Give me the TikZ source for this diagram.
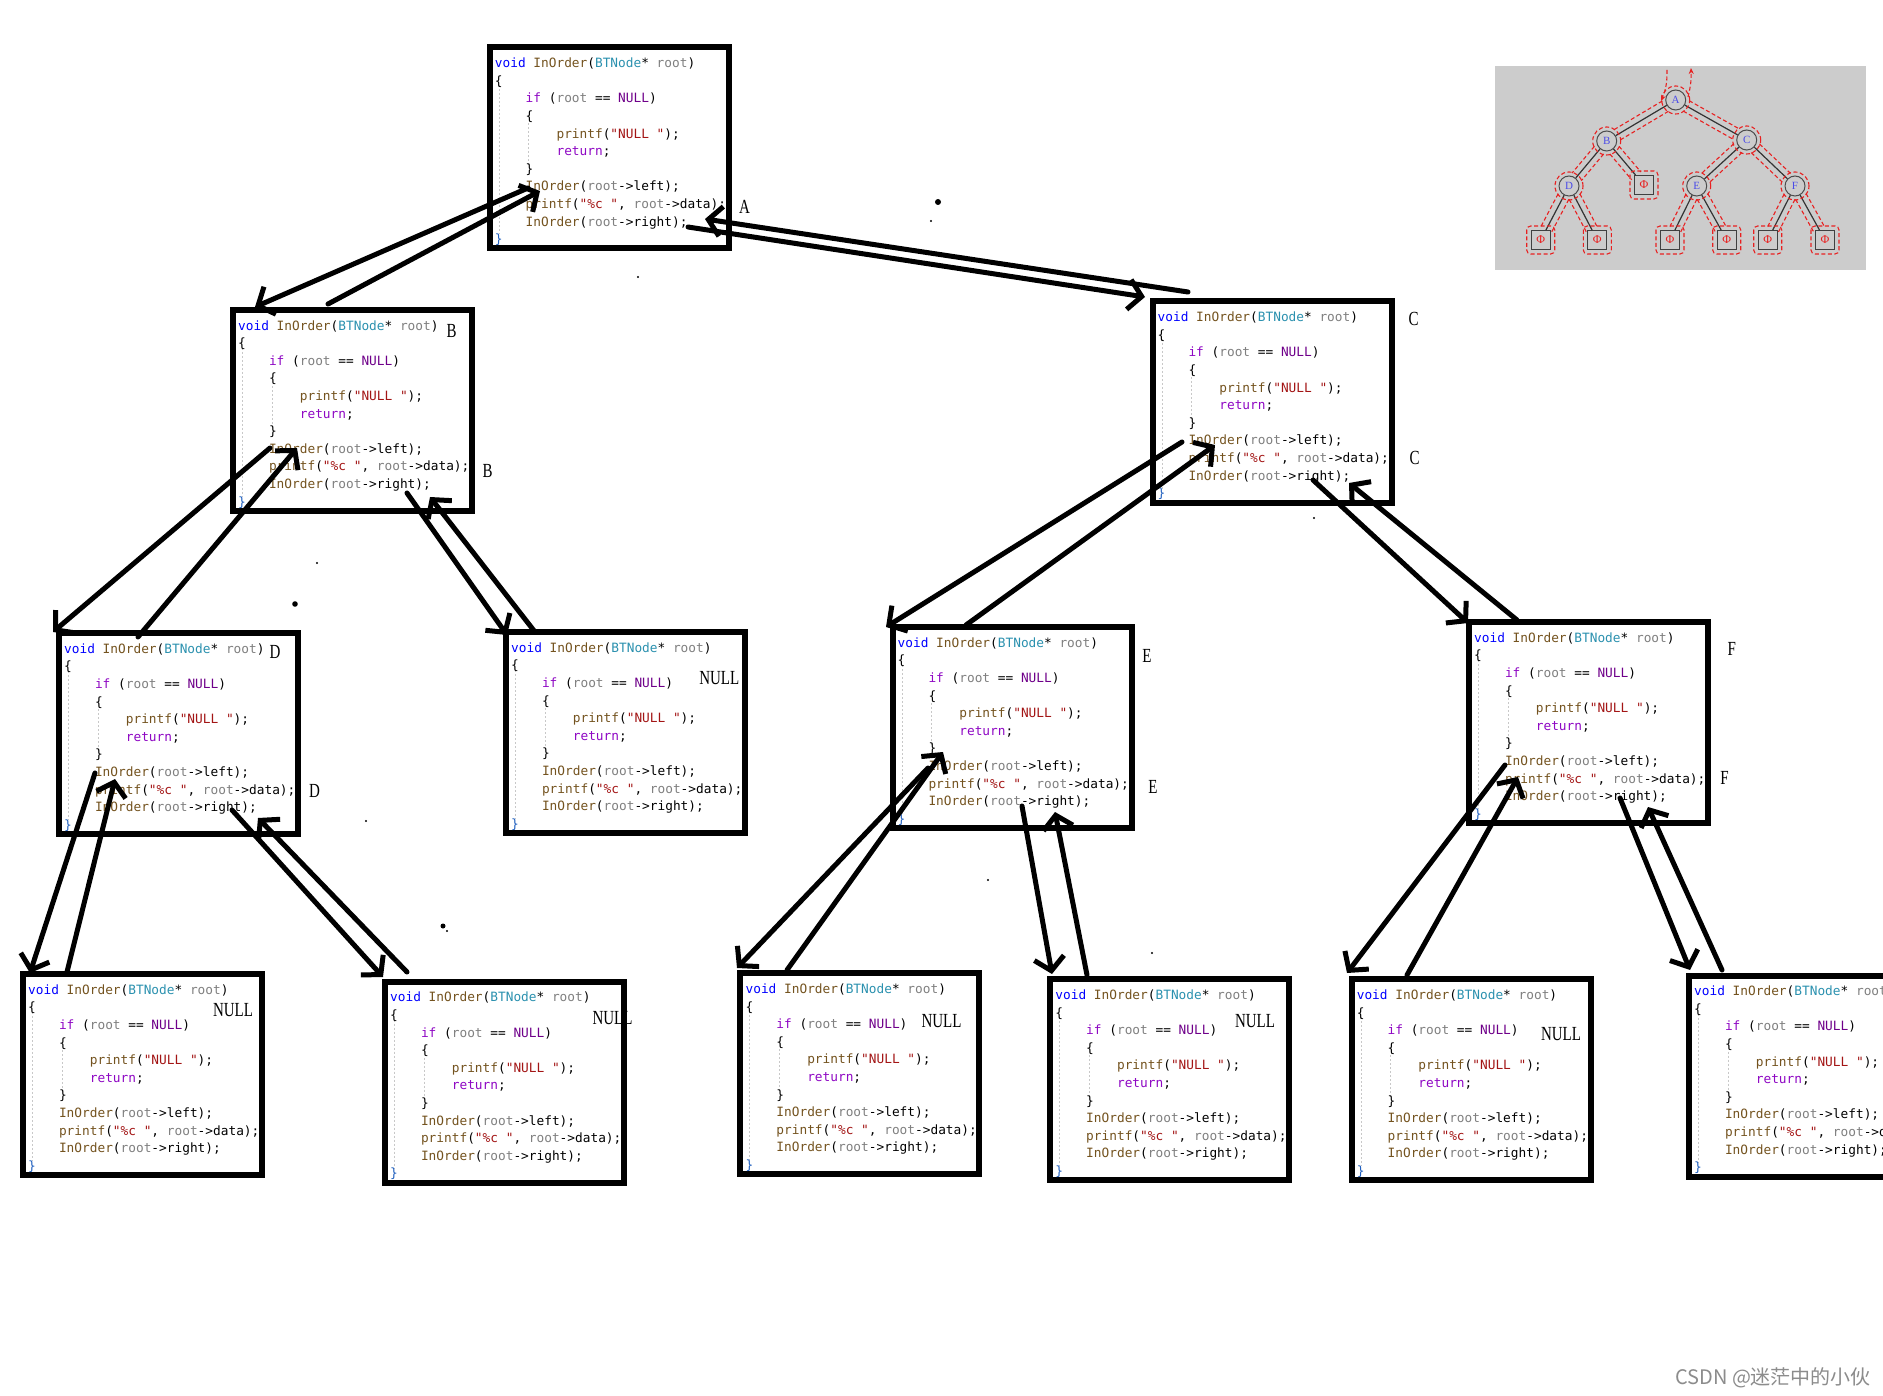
\documentclass[tikz,border=0pt]{standalone}
\usepackage{fontspec}
\setmonofont{DejaVu Sans Mono}
\newfontfamily\lblfont{Liberation Serif}[FakeStretch=0.75]
\newfontfamily\thumbfont{Liberation Serif}
\newfontfamily\cjkfont{Noto Sans CJK SC}
\usetikzlibrary{arrows.meta,calc}
\definecolor{vsblue}{HTML}{0000FF}
\definecolor{vsfn}{HTML}{74531F}
\definecolor{vstype}{HTML}{2B91AF}
\definecolor{vsparam}{HTML}{808080}
\definecolor{vskw}{HTML}{8F08C4}
\definecolor{vsmacro}{HTML}{6F008A}
\definecolor{vsstr}{HTML}{A31515}
\definecolor{vsbrace}{HTML}{1F5FBF}
\definecolor{guidegray}{HTML}{C8C8C8}
\definecolor{thumbbg}{HTML}{CCCCCC}
\definecolor{thumbred}{HTML}{E82020}
\definecolor{thumbblue}{HTML}{4B4BE8}
\definecolor{wmgray}{HTML}{8C8C8C}

\newcommand\codelines{%
\rule{0pt}{10pt}\textcolor{vsblue}{void} \textcolor{vsfn}{InOrder}(\textcolor{vstype}{BTNode}* \textcolor{vsparam}{root})\\
\{\\
\phantom{0000}\textcolor{vskw}{if} (\textcolor{vsparam}{root} == \textcolor{vsmacro}{NULL})\\
\phantom{0000}\{\\
\phantom{00000000}\textcolor{vsfn}{printf}(\textcolor{vsstr}{"NULL "});\\
\phantom{00000000}\textcolor{vskw}{return};\\
\phantom{0000}\}\\
\phantom{0000}\textcolor{vsfn}{InOrder}(\textcolor{vsparam}{root}->left);\\
\phantom{0000}\textcolor{vsfn}{printf}(\textcolor{vsstr}{"\%c "}, \textcolor{vsparam}{root}->data);\\
\phantom{0000}\textcolor{vsfn}{InOrder}(\textcolor{vsparam}{root}->right);\\
\textcolor{vsbrace}{\}}}

\tikzset{
  cbox/.style={draw=black, line width=6pt, minimum width=239pt, minimum height=201pt, inner sep=0pt, outer sep=0pt},
  ctext/.style={anchor=north west, inner sep=0pt, align=left, font=\ttfamily\fontsize{12.8}{17.6}\selectfont},
  guide/.style={draw=guidegray, line width=1pt, dash pattern=on 2pt off 2pt},
  lbl/.style={inner sep=0pt, font=\lblfont\fontsize{20}{20}\selectfont},
  hand/.style={line width=5pt, line cap=round, line join=round, -{Straight Barb[length=13pt,width=30pt]}},
  tcirc/.style={circle, draw=black!70, line width=1pt, minimum size=20pt, inner sep=0pt, text=thumbblue, font=\thumbfont\fontsize{11}{11}\selectfont},
  tsq/.style={rectangle, draw=black!75, line width=1pt, minimum size=19pt, inner sep=0pt, text=thumbred, font=\thumbfont\fontsize{12}{12}\selectfont},
  tedge/.style={draw=black!80, line width=1.2pt},
  tdash/.style={draw=thumbred, line width=1.1pt, dash pattern=on 4pt off 2.5pt},
  dot/.style={fill=black}
}

\newcommand\codebox[3]{%
  \node[cbox] (#1) at (#2+119.5,#3+100.5) {};
  \draw[guide] (#2+9.5,#3+38) -- (#2+9.5,#3+187);
  \draw[guide] (#2+39,#3+76) -- (#2+39,#3+119);
  \node[ctext] (#1-code) at (#2+5,#3+10) {\codelines};
}
\newcommand\harrow[3]{%
  \coordinate (#1-s) at (#2);
  \coordinate (#1-t) at (#3);
  \draw[hand] (#1-s) -- (#1-t);
}
\newcommand\tring[1]{\draw[tdash] (#1) circle (14pt);}
\newcommand\tsqring[1]{\draw[tdash, rounded corners=4pt] ($(#1)+(-14,-14)$) rectangle ($(#1)+(14,14)$);}
\newcommand\tcontour[2]{%
  \draw[tdash, shorten <=12pt, shorten >=12pt] ($(#1)!6pt!90:(#2)$) -- ($(#2)!6pt!-90:(#1)$);
  \draw[tdash, shorten <=12pt, shorten >=12pt] ($(#1)!6pt!-90:(#2)$) -- ($(#2)!6pt!90:(#1)$);
}

\begin{document}
\begin{tikzpicture}[x=1pt, y=-1pt]
\useasboundingbox (0,0) rectangle (1883,1396);
\fill[white] (0,0) rectangle (1883,1396);

% ---------- thumbnail ----------
\fill[thumbbg] (1495,66) rectangle (1866,270);
\node[tcirc] (tA) at (1675.7,100) {A};
\node[tcirc] (tB) at (1606.7,141) {B};
\node[tcirc] (tC) at (1746.7,140) {C};
\node[tcirc] (tD) at (1569,186) {D};
\node[tsq]   (tN1) at (1644,185) {Φ};
\node[tcirc] (tE) at (1696.7,186) {E};
\node[tcirc] (tF) at (1795,186) {F};
\node[tsq]   (tN2) at (1540.7,240) {Φ};
\node[tsq]   (tN3) at (1597.3,240) {Φ};
\node[tsq]   (tN4) at (1670,240) {Φ};
\node[tsq]   (tN5) at (1726.7,240) {Φ};
\node[tsq]   (tN6) at (1767.7,240) {Φ};
\node[tsq]   (tN7) at (1825,240) {Φ};
\foreach \u/\v in {tA/tB,tA/tC,tB/tD,tB/tN1,tD/tN2,tD/tN3,tC/tE,tC/tF,tE/tN4,tE/tN5,tF/tN6,tF/tN7}{
  \draw[tedge] (\u) -- (\v);
  \tcontour{\u}{\v}
}
\foreach \n in {tA,tB,tC,tD,tE,tF}{\tring{\n}}
\foreach \n in {tN1,tN2,tN3,tN4,tN5,tN6,tN7}{\tsqring{\n}}
\coordinate (tinS) at (1667,70);
\coordinate (tinT) at (1661,101);
\coordinate (toutS) at (1688,97);
\coordinate (toutT) at (1691,68);
\draw[tdash, -{Stealth[length=6pt,width=5pt]}] (tinS) to[bend left=12] (tinT);
\draw[tdash, -{Stealth[length=6pt,width=5pt]}] (toutS) to[bend right=8] (toutT);

% ---------- code boxes ----------
\codebox{A}{489.7}{47.5}
\codebox{B}{233}{310}
\codebox{C}{1152.5}{301.5}
\codebox{D}{59}{633}
\codebox{Bn}{506}{632}
\codebox{E}{892.5}{627}
\codebox{F}{1469}{622}
\codebox{DL}{23}{974}
\codebox{DR}{385}{981.7}
\codebox{EL}{740.4}{973.3}
\codebox{ER}{1050.2}{979.3}
\codebox{FL}{1351.6}{979.3}
\codebox{FR}{1689}{975.5}

% ---------- labels ----------
\node[lbl] (lA) at (744.6,206.6) {A};
\node[lbl] (lB1) at (451.5,331.4) {B};
\node[lbl] (lB2) at (487.6,470.8) {B};
\node[lbl] (lC1) at (1413.5,319.4) {C};
\node[lbl] (lC2) at (1414.7,457.5) {C};
\node[lbl] (lD1) at (275,652) {D};
\node[lbl] (lD2) at (314.6,791.4) {D};
\node[lbl] (lN1) at (719.3,678.5) {NULL};
\node[lbl] (lE1) at (1146.9,655.7) {E};
\node[lbl] (lE2) at (1152.9,786.6) {E};
\node[lbl] (lF1) at (1731.7,648.5) {F};
\node[lbl] (lF2) at (1724.5,778.2) {F};
\node[lbl] (lN2) at (233,1010) {NULL};
\node[lbl] (lN3) at (612.5,1018.4) {NULL};
\node[lbl] (lN4) at (941.5,1020.8) {NULL};
\node[lbl] (lN5) at (1255,1020.8) {NULL};
\node[lbl] (lN6) at (1561,1034) {NULL};

% ---------- stray dots ----------
\fill[dot] (938,202) circle (3pt);
\fill[dot] (931,221) circle (1.2pt);
\fill[dot] (638,277) circle (1.2pt);
\fill[dot] (317,563) circle (1.2pt);
\fill[dot] (295,604) circle (2.8pt);
\fill[dot] (366,821) circle (1.2pt);
\fill[dot] (443,926) circle (2.5pt);
\fill[dot] (447,931) circle (1.2pt);
\fill[dot] (988,880) circle (1.2pt);
\fill[dot] (1152,953) circle (1.2pt);
\fill[dot] (1314,518) circle (1.2pt);

% ---------- hand-drawn call / return arrows ----------
\harrow{ABd}{528,188}{255,307}
\harrow{ABu}{328,304}{540,191}
\harrow{ACd}{688,227}{1145,297}
\harrow{ACu}{1188,292}{705,219}
\harrow{BDd}{270,448}{53,632}
\harrow{BDu}{138,637}{297,448}
\harrow{BNd}{407,493}{507,635}
\harrow{BNu}{535,632}{430,497}
\harrow{CEd}{1182,442}{886,627}
\harrow{CEu}{966,625}{1215,445}
\harrow{CFd}{1313,480}{1468,623}
\harrow{CFu}{1517,620}{1349,483}
\harrow{DLd}{95,773}{30,973}
\harrow{DLu}{67,972}{115,779}
\harrow{DRd}{232,810}{383,977}
\harrow{DRu}{407,972}{258,818}
\harrow{ELd}{928,768}{737,968}
\harrow{ELu}{787,970}{943,752}
\harrow{ERd}{1022,806}{1052,974}
\harrow{ERu}{1087,975}{1055,812}
\harrow{FLd}{1505,765}{1347,973}
\harrow{FLu}{1407,975}{1518,777}
\harrow{FRd}{1620,798}{1690,970}
\harrow{FRu}{1722,970}{1648,807}

% ---------- watermark ----------
\node[anchor=base west, inner sep=0pt, text=wmgray, font=\cjkfont\fontsize{20}{20}\selectfont] (wm) at (1675,1384) {CSDN @迷茫中的小伙};
\end{tikzpicture}
\end{document}
